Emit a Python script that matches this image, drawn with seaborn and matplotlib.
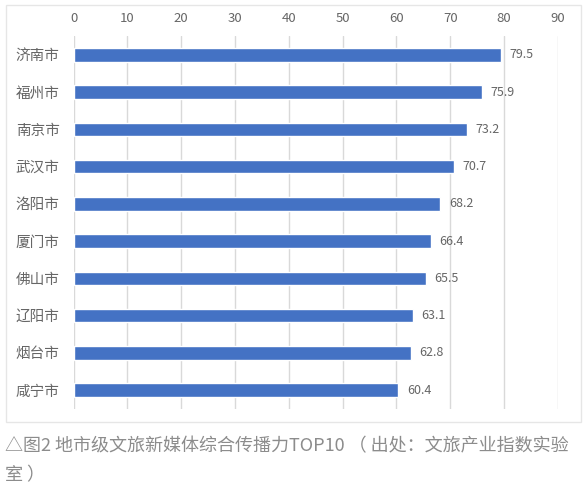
import pandas as pd
import matplotlib.pyplot as plt
import seaborn as sns
from matplotlib.patches import Rectangle

cities = ['济南市', '福州市', '南京市', '武汉市', '洛阳市', '厦门市', '佛山市', '辽阳市', '烟台市', '咸宁市']
scores = [79.5, 75.9, 73.2, 70.7, 68.2, 66.4, 65.5, 63.1, 62.8, 60.4]
ticks = [0, 10, 20, 30, 40, 50, 60, 70, 80, 90]
caption_1 = '△图2 地市级文旅新媒体综合传播力TOP10 （ 出处：文旅产业指数实验'
caption_2 = '室 ）'

df = pd.DataFrame({'city': cities, 'score': scores})

sns.set_style('white')
plt.rcParams['font.family'] = ['Noto Sans CJK SC', 'DejaVu Sans']

fig = plt.figure(figsize=(5.84, 4.9), dpi=100)
ax = fig.add_axes([0.126, 0.166, 0.829, 0.760])

sns.barplot(data=df, x='score', y='city', color='#4472C4', saturation=1, width=0.36, ax=ax)

ax.set_xlim(0, 90)
ax.set_xticks(ticks)
ax.xaxis.tick_top()
ax.grid(axis='x', color='#d9d9d9', linewidth=1)
ax.set_axisbelow(True)
for s in ax.spines.values():
    s.set_visible(False)
ax.tick_params(axis='both', length=0, colors='#666666')
ax.tick_params(axis='x', labelsize=9.5, pad=8)
ax.tick_params(axis='y', labelsize=10.5, pad=10)
ax.set_xlabel('')
ax.set_ylabel('')

for cont in ax.containers:
    ax.bar_label(cont, fmt='%.1f', padding=6, fontsize=9, color='#666666')

fig.patches.append(Rectangle((0.010, 0.139), 0.985, 0.851, transform=fig.transFigure,
                             fill=False, edgecolor='#e6e6e6', linewidth=1))

fig.text(0.008, 0.079, caption_1, fontsize=13, color='#8c8c8c', fontweight='light')
fig.text(0.008, 0.020, caption_2, fontsize=13, color='#8c8c8c', fontweight='light')

fig.savefig('out.png', dpi=100)
